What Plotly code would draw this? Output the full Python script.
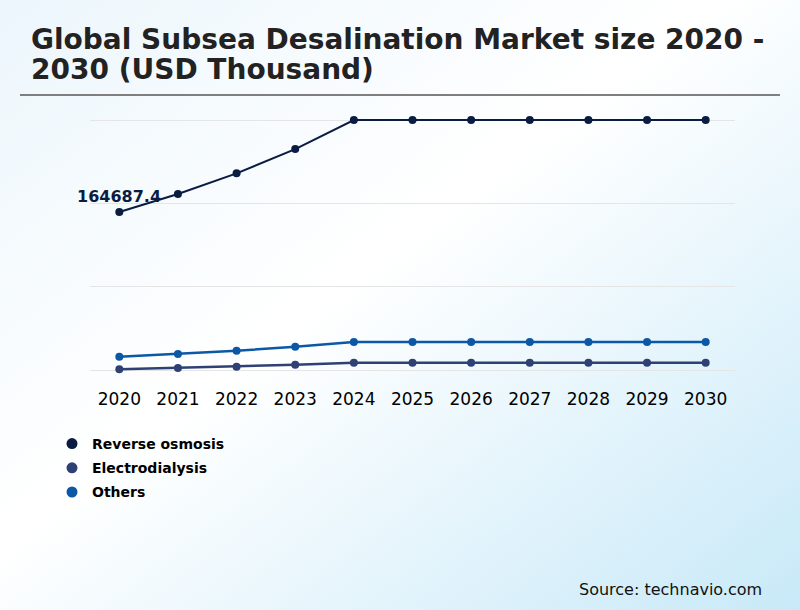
import base64
import plotly.graph_objects as go

years = [2020, 2021, 2022, 2023, 2024, 2025, 2026, 2027, 2028, 2029, 2030]
reverse_osmosis = [164687.4, 183400, 205000, 230300, 260600, 260600, 260600, 260600, 260600, 260600, 260600]
electrodialysis = [700, 2100, 3450, 5500, 7600, 7600, 7600, 7600, 7600, 7600, 7600]
others = [13900, 16700, 20100, 24300, 29200, 29200, 29200, 29200, 29200, 29200, 29200]
series_names = ["Reverse osmosis", "Electrodialysis", "Others"]
series_colors = ["#0b1c43", "#2f4075", "#0b58a6"]
y_ticks = [0, 86867, 173733, 260600]

W, H = 800, 610
L, R, T, B = 90, 65, 118, 238
PW, PH = W - L - R, H - T - B
# pixel span between the lowest and highest gridline is 250 px; 2 px of padding each side
pad = 2 / 250 * y_ticks[-1]


def px(xp):
    return (xp - L) / PW


def py(yp):
    return (H - B - yp) / PH


svg = f'''<svg xmlns="http://www.w3.org/2000/svg" width="{W}" height="{H}">
<defs><linearGradient id="g" x1="0" y1="0" x2="1" y2="1">
<stop offset="0" stop-color="#ecf6fc"/>
<stop offset="0.45" stop-color="#ffffff"/>
<stop offset="1" stop-color="#c8e9f8"/>
</linearGradient></defs>
<rect width="{W}" height="{H}" fill="url(#g)"/></svg>'''
bg_uri = "data:image/svg+xml;base64," + base64.b64encode(svg.encode()).decode()

fig = go.Figure()
data = [reverse_osmosis, electrodialysis, others]
widths = [2, 2.5, 2.5]
for name, vals, col, w in zip(series_names, data, series_colors, widths):
    fig.add_trace(go.Scatter(
        x=years, y=vals, mode="lines+markers", name=name,
        line=dict(color=col, width=w), marker=dict(color=col, size=8),
        cliponaxis=False, showlegend=False, hoverinfo="x+y+name"))
for i, (name, col) in enumerate(zip(series_names, series_colors)):
    fig.add_trace(go.Scatter(
        x=[None], y=[None], mode="markers", name=name,
        marker=dict(color=col, size=11), legendgroup=f"g{i}", showlegend=True))

fig.add_annotation(x=years[0], y=reverse_osmosis[0], xref="x", yref="y",
                   text=f"<b>{reverse_osmosis[0]}</b>", showarrow=False,
                   yshift=16, font=dict(family="DejaVu Sans", size=16, color="#0b1c43"))

fig.add_annotation(x=px(28.5), y=py(39.5), xref="paper", yref="paper", xanchor="left", yanchor="middle",
                   text="<b>Global Subsea Desalination Market size 2020 -</b>", showarrow=False,
                   font=dict(family="DejaVu Sans", size=28, color="#222222"))
fig.add_annotation(x=px(28.5), y=py(70), xref="paper", yref="paper", xanchor="left", yanchor="middle",
                   text="<b>2030 (USD Thousand)</b>", showarrow=False,
                   font=dict(family="DejaVu Sans", size=28, color="#222222"))
fig.add_annotation(x=px(764), y=py(589), xref="paper", yref="paper", xanchor="right", yanchor="middle",
                   text="Source: technavio.com", showarrow=False,
                   font=dict(family="DejaVu Sans", size=16, color="#111111"))

fig.add_shape(type="line", xref="paper", yref="paper", x0=px(20), x1=px(780), y0=py(95), y1=py(95),
              line=dict(color="#7f7f7f", width=2))

fig.add_layout_image(dict(source=bg_uri, xref="paper", yref="paper", x=px(0), y=py(0),
                          sizex=W / PW, sizey=H / PH, xanchor="left", yanchor="top",
                          sizing="stretch", layer="below"))

fig.update_layout(
    width=W, height=H, margin=dict(l=L, r=R, t=T, b=B),
    paper_bgcolor="white", plot_bgcolor="rgba(0,0,0,0)",
    font=dict(family="DejaVu Sans", color="#000000"),
    xaxis=dict(range=[2019.5, 2030.5], tickvals=years, ticktext=[str(y) for y in years],
               showgrid=False, zeroline=False, showline=False, ticks="",
               ticklabelstandoff=15,
               tickfont=dict(size=17, color="#000000")),
    yaxis=dict(range=[-pad, y_ticks[-1] + pad], tickvals=y_ticks, showticklabels=False,
               showgrid=True, gridcolor="#e5e5e5", gridwidth=1, zeroline=False, showline=False),
    legend=dict(x=px(52), y=py(428), xanchor="left", yanchor="top", orientation="v",
                bgcolor="rgba(0,0,0,0)", font=dict(size=14, color="#000000", family="DejaVu Sans"),
                tracegroupgap=3, itemwidth=30),
    showlegend=True,
)
fig.update_layout(legend_font_weight="bold")

fig.write_html("out.html", config={"displayModeBar": False},
               post_script="document.body.style.margin='0px';document.body.style.padding='0px';")
